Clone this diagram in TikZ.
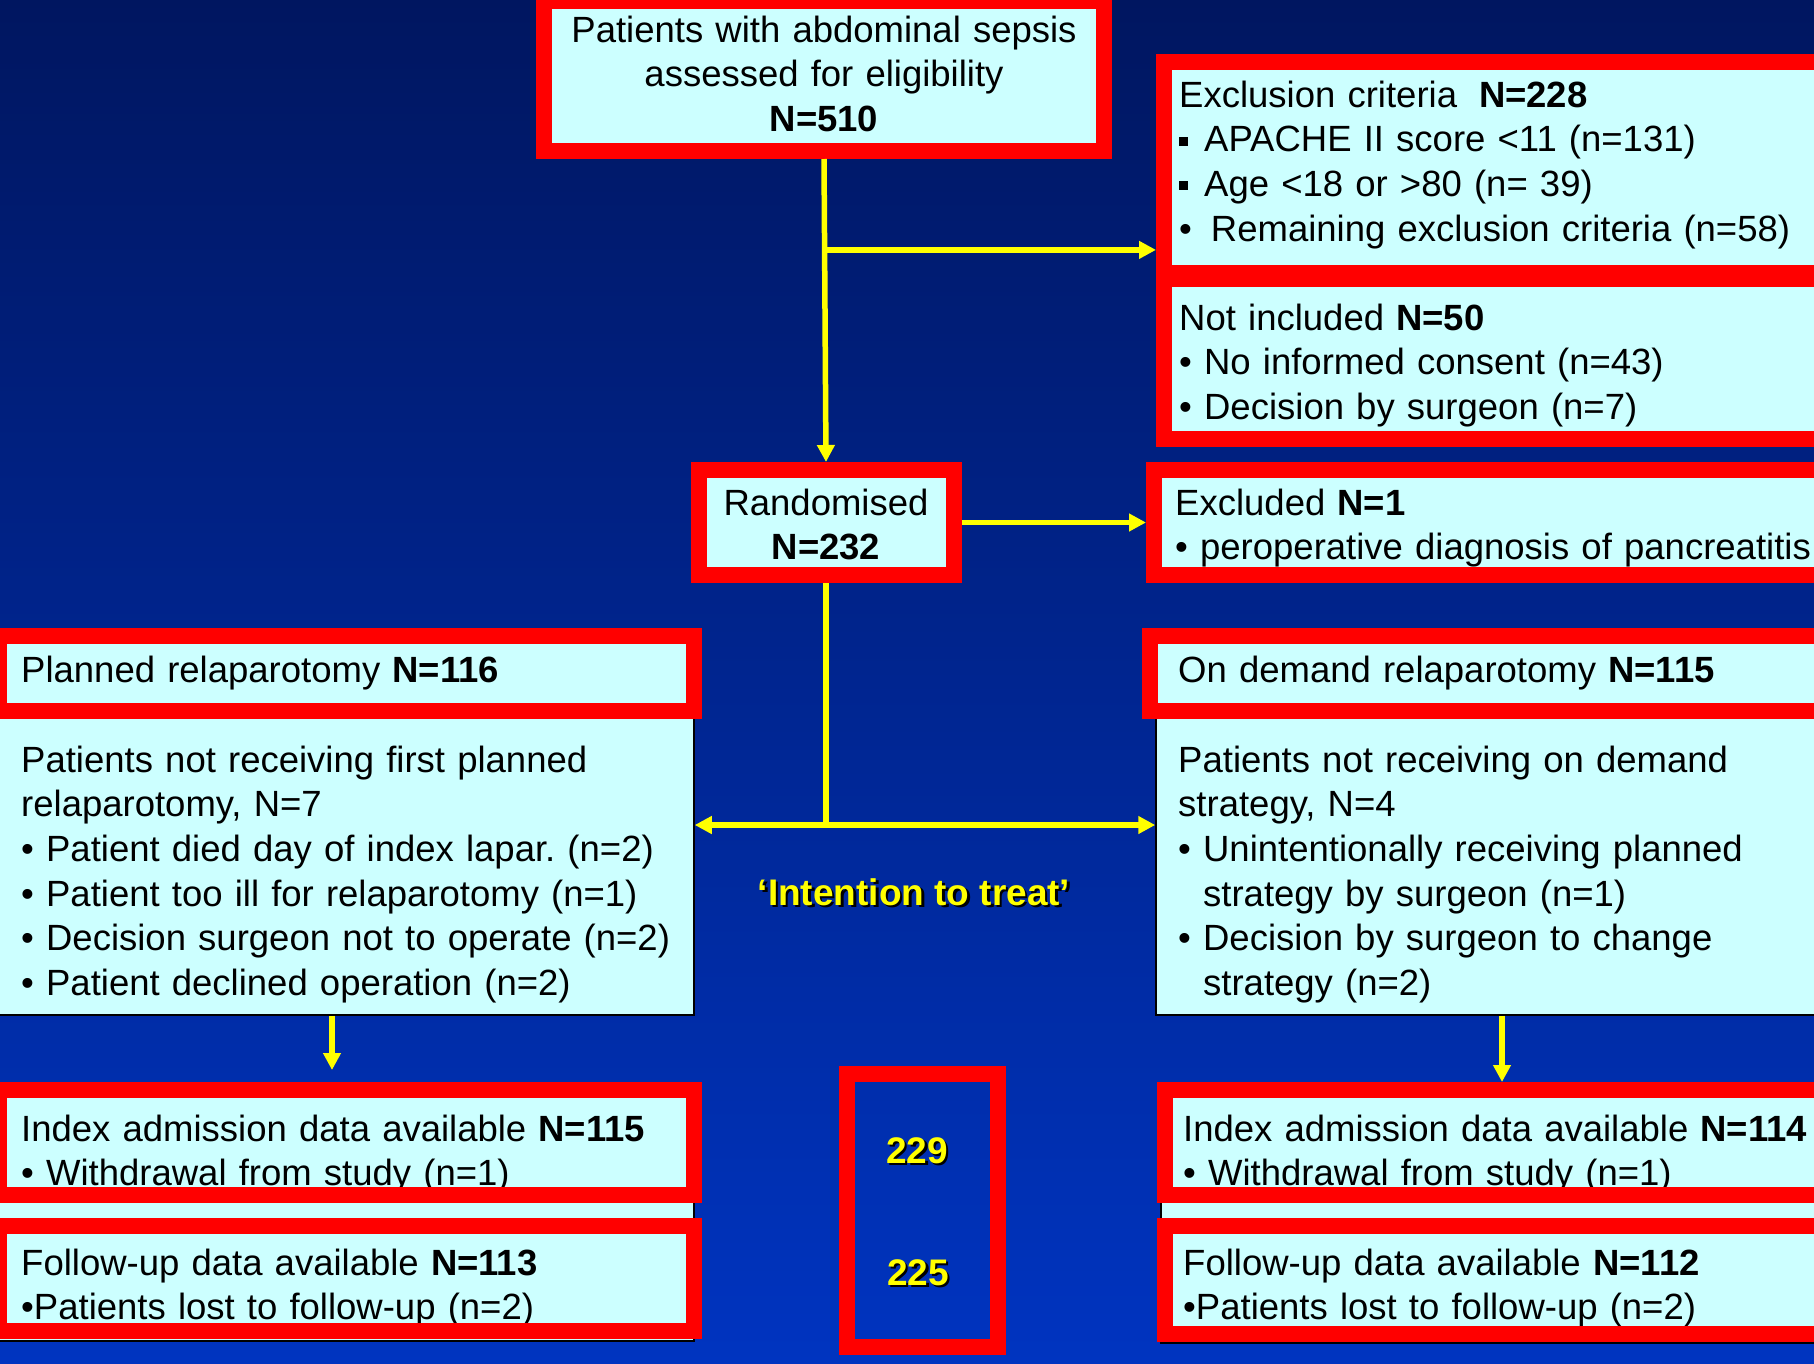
\documentclass[tikz,border=0pt]{standalone}
\usepackage{fontspec}
\setmainfont{Liberation Sans}
\usetikzlibrary{arrows.meta,calc}
\definecolor{bgtop}{RGB}{0,22,96}
\definecolor{bgbot}{RGB}{0,52,192}
\definecolor{boxcyan}{RGB}{204,255,255}
\definecolor{framered}{RGB}{255,0,0}
\definecolor{lineyellow}{RGB}{255,255,0}
\newcommand\redframe[1]{\draw[frame] ([shift={(8pt,-8pt)}]#1.north west) rectangle ([shift={(-8pt,8pt)}]#1.south east);}
\newcommand\shadowed[1]{\makebox[0pt][l]{\hspace{2.5pt}\raisebox{-2.5pt}{\color{black}#1}}#1}
\newcommand\sqbul{\rule[6pt]{9pt}{9pt}\hspace{16pt}}
\frenchspacing
\begin{document}
\begin{tikzpicture}[x=1pt,y=-1pt,
  panel/.style={fill=boxcyan, draw=none, inner sep=0, outer sep=8pt, rectangle},
  plain/.style={fill=boxcyan, draw=black, line width=1.5pt, inner sep=0, rectangle},
  frame/.style={draw=framered, line width=16pt},
  txt/.style={font=\fontsize{36.5}{44.7}\selectfont\frenchspacing, inner sep=0, anchor=base west, align=left, text width=690pt, text=black},
  ctxt/.style={font=\fontsize{36.5}{44.7}\selectfont, inner sep=0, anchor=base, align=center, text width=540pt, text=black},
  ytxt/.style={font=\fontsize{37}{44.7}\selectfont\bfseries, inner sep=0, anchor=base, text=lineyellow},
  conn/.style={draw=lineyellow, line width=5.5pt},
  arr/.style={conn, -{Triangle[length=17pt,width=17pt]}},
]
\useasboundingbox (0,0) rectangle (1814,1363);
\shade[top color=bgtop, bottom color=bgbot] (0,0) rectangle (1814,1363);

% plain cyan boxes with thin black border
\node[plain, minimum width=695pt, minimum height=385pt] (detL) at (346.5,822.5) {};
\node[plain, minimum width=692pt, minimum height=385pt] (detR) at (1502,822.5) {};
\node[plain, minimum width=695pt, minimum height=251pt] (bgL) at (346.5,1215.5) {};
\node[plain, minimum width=687pt, minimum height=253pt] (bgR) at (1504.5,1216.5) {};

% framed panels (band-centre rectangles)
\node[panel, minimum width=560pt, minimum height=150pt] (top) at (824,76) {};
\node[panel, minimum width=676pt, minimum height=211pt] (excl) at (1502,167.5) {};
\node[panel, minimum width=676pt, minimum height=160pt] (notincl) at (1502,359) {};
\node[panel, minimum width=255pt, minimum height=105pt] (rand) at (826,522.5) {};
\node[panel, minimum width=686pt, minimum height=105pt] (exclu) at (1497,522.5) {};
\node[panel, minimum width=695pt, minimum height=75pt] (plan) at (346.5,673.5) {};
\node[panel, minimum width=704pt, minimum height=75pt] (ond) at (1502,673.5) {};
\node[panel, minimum width=695pt, minimum height=105pt] (idxL) at (346.5,1142.5) {};
\node[panel, minimum width=695pt, minimum height=105pt] (fuL) at (346.5,1278.5) {};
\node[panel, minimum width=674pt, minimum height=105pt] (idxR) at (1502,1142.5) {};
\node[panel, minimum width=674pt, minimum height=108pt] (fuR) at (1502,1280) {};
\node[panel, fill=none, minimum width=151pt, minimum height=273pt] (ctr) at (922.5,1210.5) {};

% texts
\node[ctxt] (ttop) at (824,42) {Patients with abdominal sepsis\\assessed for eligibility\\\textbf{N=510}};
\node[txt] (texcl) at (1179,107) {Exclusion criteria\hspace{0.6em}\textbf{N=228}\\\sqbul APACHE II score <11 (n=131)\\\sqbul Age <18 or >80 (n= 39)\\•\hspace{19pt}Remaining exclusion criteria (n=58)};
\node[txt] (tnot) at (1179,330) {Not included \textbf{N=50}\\• No informed consent (n=43)\\• Decision by surgeon (n=7)};
\node[ctxt, text width=240pt] (trand) at (826,515) {Randomised\\\textbf{N=232}};
\node[txt] (texclu) at (1175,515) {Excluded \textbf{N=1}\\• peroperative diagnosis of pancreatitis};
\node[txt] (tplan) at (21,682) {Planned relaparotomy \textbf{N=116}};
\node[txt] (tdetL) at (21,772) {Patients not receiving first planned\\relaparotomy, N=7\\• Patient died day of index lapar. (n=2)\\• Patient too ill for relaparotomy (n=1)\\• Decision surgeon not to operate (n=2)\\• Patient declined operation (n=2)};
\node[txt] (tond) at (1178,682) {On demand relaparotomy \textbf{N=115}};
\node[txt] (tdetR) at (1178,772) {Patients not receiving on demand\\strategy, N=4\\• Unintentionally receiving planned\\\phantom{• }strategy by surgeon (n=1)\\• Decision by surgeon to change\\\phantom{• }strategy (n=2)};
\node[ytxt] (titt) at (914,905) {\shadowed{‘Intention to treat’}};
\node[txt] (tidxL) at (21,1141) {Index admission data available \textbf{N=115}\\• Withdrawal from study (n=1)};
\node[txt] (tfuL) at (21,1275) {Follow-up data available \textbf{N=113}\\•Patients lost to follow-up (n=2)};
\node[txt] (tidxR) at (1183,1141) {Index admission data available \textbf{N=114}\\• Withdrawal from study (n=1)};
\node[txt] (tfuR) at (1183,1275) {Follow-up data available \textbf{N=112}\\•Patients lost to follow-up (n=2)};
\node[ytxt] (n229) at (917,1163) {\shadowed{229}};
\node[ytxt] (n225) at (918,1285) {\shadowed{225}};

% red frames on top of the panels
\redframe{top}
\redframe{excl}
\redframe{notincl}
\redframe{rand}
\redframe{exclu}
\redframe{plan}
\redframe{ond}
\redframe{idxL}
\redframe{fuL}
\redframe{idxR}
\redframe{fuR}
\redframe{ctr}

% connectors
\coordinate (br1) at ($(top.south)!0.3!(rand.north)$);
\coordinate (itt) at ([yshift=-242pt]rand.south);
\draw[arr] (top.south) -- (rand.north);
\draw[arr] (br1) -- (br1 -| excl.west);
\draw[arr] (rand.east) -- (exclu.west);
\draw[conn] (rand.south) -- (itt);
\draw[arr] (itt) -- (itt -| detL.east);
\draw[arr] (itt) -- (itt -| detR.west);
\draw[arr, shorten >=12pt] ([xshift=-14.5pt]detL.south) -- ([xshift=-14.5pt]idxL.north);
\draw[arr] (detR.south) -- (idxR.north);
\end{tikzpicture}
\end{document}
